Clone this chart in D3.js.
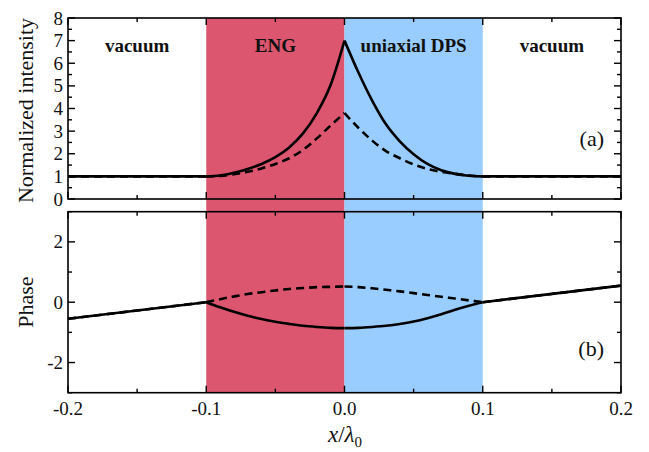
<!DOCTYPE html>
<html>
<head>
<meta charset="utf-8">
<script src="https://cdn.jsdelivr.net/npm/d3@7"></script>
<style>
  html, body { margin: 0; padding: 0; background: #fff; }
  svg { display: block; }
  text { font-family: "Liberation Serif", "Times New Roman", serif; fill: #111; }
</style>
</head>
<body>
<svg id="chart" width="649" height="452"></svg>
<script>
// Position x/λ0 sample points
const xGrid = [-0.2, -0.1, -0.09, -0.08, -0.07, -0.06, -0.05, -0.04, -0.03, -0.02, -0.01, 0,
               0.01, 0.02, 0.03, 0.04, 0.05, 0.06, 0.07, 0.08, 0.09, 0.1, 0.2];

// (a) normalized intensity
const intensitySolid  = [1, 1, 1.04, 1.16, 1.33, 1.55, 1.85, 2.28, 2.9, 3.8, 5.05, 7.0,
                         5.6, 4.35, 3.3, 2.55, 1.98, 1.55, 1.27, 1.11, 1.03, 1.0, 1.0];
const intensityDashed = [1, 1, 1.02, 1.1, 1.2, 1.35, 1.55, 1.8, 2.17, 2.68, 3.25, 3.8,
                         3.15, 2.58, 2.12, 1.8, 1.53, 1.33, 1.2, 1.11, 1.04, 1.0, 1.0];

// (b) phase
const phaseSolid  = [-0.55, 0, -0.17, -0.32, -0.45, -0.56, -0.65, -0.72, -0.78, -0.82, -0.85, -0.86,
                     -0.85, -0.82, -0.78, -0.72, -0.64, -0.53, -0.4, -0.25, -0.12, 0, 0.55];
const phaseDashed = [-0.55, 0, 0.1, 0.19, 0.27, 0.33, 0.39, 0.44, 0.47, 0.5, 0.51, 0.52,
                     0.5, 0.46, 0.41, 0.36, 0.3, 0.24, 0.18, 0.12, 0.06, 0, 0.55];

// Layer regions
const regions = [
  { name: "ENG", x0: -0.1, x1: 0.0, color: "#db566e" },
  { name: "uniaxial DPS", x0: 0.0, x1: 0.1, color: "#99ccff" }
];
const regionLabels = [
  { text: "vacuum", x: -0.15 },
  { text: "ENG", x: -0.05 },
  { text: "uniaxial DPS", x: 0.05 },
  { text: "vacuum", x: 0.15 }
];
// Boundaries where the curves have kinks
const breaks = [-0.2, -0.1, 0, 0.1, 0.2];

const xMajor = [-0.2, -0.1, 0.0, 0.1, 0.2];
const xMinor = [-0.15, -0.05, 0.05, 0.15];
const yMajorA = [0, 1, 2, 3, 4, 5, 6, 7, 8];
const yMinorA = [0.5, 1.5, 2.5, 3.5, 4.5, 5.5, 6.5, 7.5];
const yMajorB = [-2, 0, 2];
const yMinorB = [-3, -1, 1, 3];

const svg = d3.select("#chart");
const left = 68, right = 621;
const panelA = { top: 18, bottom: 199 };
const panelB = { top: 211.7, bottom: 392.7 };

const x = d3.scaleLinear().domain([-0.2, 0.2]).range([left, right]);
const yA = d3.scaleLinear().domain([0, 8]).range([panelA.bottom, panelA.top]);
const yB = d3.scaleLinear().domain([-3, 3]).range([panelB.bottom, panelB.top]);

// Coloured layer bands spanning both panels
svg.append("g").selectAll("rect").data(regions).join("rect")
  .attr("x", d => x(d.x0))
  .attr("width", d => x(d.x1) - x(d.x0))
  .attr("y", panelA.top)
  .attr("height", panelB.bottom - panelA.top)
  .attr("fill", d => d.color);

function pieces(values) {
  const out = [];
  for (let i = 0; i < breaks.length - 1; i++) {
    const seg = [];
    xGrid.forEach((xv, j) => {
      if (xv >= breaks[i] - 1e-9 && xv <= breaks[i + 1] + 1e-9) seg.push([xv, values[j]]);
    });
    out.push(seg);
  }
  return out;
}

function drawSeries(yScale, values, dashed) {
  const line = d3.line().x(d => x(d[0])).y(d => yScale(d[1])).curve(d3.curveMonotoneX);
  svg.append("g").selectAll("path").data(pieces(values)).join("path")
    .attr("d", line)
    .attr("fill", "none")
    .attr("stroke", "#000")
    .attr("stroke-width", 2.6)
    .attr("stroke-linejoin", "round")
    .attr("stroke-dasharray", dashed ? "8,5" : null);
}

drawSeries(yA, intensityDashed, true);
drawSeries(yA, intensitySolid, false);
drawSeries(yB, phaseDashed, true);
drawSeries(yB, phaseSolid, false);

// Frames with inward ticks on all sides
function frame(panel, yScale, yMaj, yMin, showXLabels) {
  const g = svg.append("g");
  const majLen = 7, minLen = 4;
  const tick = (x1, y1, x2, y2) => g.append("line")
    .attr("x1", x1).attr("y1", y1).attr("x2", x2).attr("y2", y2)
    .attr("stroke", "#000").attr("stroke-width", 1.4);
  xMajor.forEach(v => {
    tick(x(v), panel.bottom, x(v), panel.bottom - majLen);
    tick(x(v), panel.top, x(v), panel.top + majLen);
  });
  xMinor.forEach(v => {
    tick(x(v), panel.bottom, x(v), panel.bottom - minLen);
    tick(x(v), panel.top, x(v), panel.top + minLen);
  });
  yMaj.forEach(v => {
    tick(left, yScale(v), left + majLen, yScale(v));
    tick(right, yScale(v), right - majLen, yScale(v));
  });
  yMin.forEach(v => {
    tick(left, yScale(v), left + minLen, yScale(v));
    tick(right, yScale(v), right - minLen, yScale(v));
  });
  g.append("rect")
    .attr("x", left).attr("y", panel.top)
    .attr("width", right - left).attr("height", panel.bottom - panel.top)
    .attr("fill", "none").attr("stroke", "#000").attr("stroke-width", 1.6);
  g.selectAll("text.yt").data(yMaj).join("text")
    .attr("class", "yt")
    .attr("x", left - 5).attr("y", d => yScale(d) + 6.5)
    .attr("text-anchor", "end").attr("font-size", 19)
    .text(d => d3.format("d")(d).replace("−", "-"));
  if (showXLabels) {
    g.selectAll("text.xt").data(xMajor).join("text")
      .attr("class", "xt")
      .attr("x", d => x(d)).attr("y", 415)
      .attr("text-anchor", "middle").attr("font-size", 19)
      .text(d => d3.format(".1f")(d).replace("−", "-"));
  }
}
frame(panelA, yA, yMajorA, yMinorA, false);
frame(panelB, yB, yMajorB, yMinorB, true);

// Region names
svg.append("g").selectAll("text").data(regionLabels).join("text")
  .attr("x", d => x(d.x)).attr("y", 52)
  .attr("text-anchor", "middle")
  .attr("font-size", 19).attr("font-weight", "bold")
  .text(d => d.text);

// Panel tags
svg.append("text").attr("x", 604).attr("y", 146).attr("text-anchor", "end")
  .attr("font-size", 22).text("(a)");
svg.append("text").attr("x", 604).attr("y", 356).attr("text-anchor", "end")
  .attr("font-size", 22).text("(b)");

// Axis titles
svg.append("text")
  .attr("transform", `translate(33,${(panelA.top + panelA.bottom) / 2 + 2}) rotate(-90)`)
  .attr("text-anchor", "middle").attr("font-size", 22)
  .text("Normalized intensity");
svg.append("text")
  .attr("transform", `translate(33,${(panelB.top + panelB.bottom) / 2}) rotate(-90)`)
  .attr("text-anchor", "middle").attr("font-size", 22)
  .text("Phase");

const xt = svg.append("text").attr("x", 345).attr("y", 442)
  .attr("text-anchor", "middle").attr("font-size", 23);
xt.append("tspan").attr("font-style", "italic").text("x");
xt.append("tspan").text("/");
xt.append("tspan").attr("font-style", "italic").text("λ");
xt.append("tspan").attr("font-size", 15).attr("dy", 5).text("0");
</script>
</body>
</html>
